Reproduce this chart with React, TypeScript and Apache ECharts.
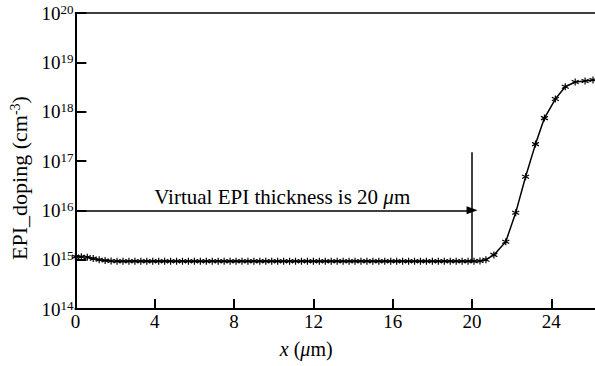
import React, { useEffect, useRef } from "react";
import * as echarts from "echarts";

// depth positions (μm)
const xs = [
  0, 0.3, 0.6, 0.9, 1.2, 1.5, 1.8, 2.1, 2.4, 2.7, 3.0, 3.3, 3.6, 3.9, 4.2, 4.5, 4.8,
  5.1, 5.4, 5.7, 6.0, 6.3, 6.6, 6.9, 7.2, 7.5, 7.8, 8.1, 8.4, 8.7, 9.0, 9.3, 9.6,
  9.9, 10.2, 10.5, 10.8, 11.1, 11.4, 11.7, 12.0, 12.3, 12.6, 12.9, 13.2, 13.5, 13.8,
  14.1, 14.4, 14.7, 15.0, 15.3, 15.6, 15.9, 16.2, 16.5, 16.8, 17.1, 17.4, 17.7, 18.0,
  18.3, 18.6, 18.9, 19.2, 19.5, 19.8, 20.1, 20.4, 20.7, 21.1, 21.7, 22.2, 22.7,
  23.2, 23.65, 24.2, 24.7, 25.2, 25.7, 26.1,
];
// doping values (cm^-3)
const doping = [
  1.15e15, 1.15e15, 1.12e15, 1.05e15, 1.0e15, 0.96e15, 0.94e15, 0.93e15, 0.93e15,
  0.93e15, 0.93e15, 0.93e15, 0.93e15, 0.93e15, 0.93e15, 0.93e15, 0.93e15, 0.93e15,
  0.93e15, 0.93e15, 0.93e15, 0.93e15, 0.93e15, 0.93e15, 0.93e15, 0.93e15, 0.93e15,
  0.93e15, 0.93e15, 0.93e15, 0.93e15, 0.93e15, 0.93e15, 0.93e15, 0.93e15, 0.93e15,
  0.93e15, 0.93e15, 0.93e15, 0.93e15, 0.93e15, 0.93e15, 0.93e15, 0.93e15, 0.93e15,
  0.93e15, 0.93e15, 0.93e15, 0.93e15, 0.93e15, 0.93e15, 0.93e15, 0.93e15, 0.93e15,
  0.93e15, 0.93e15, 0.93e15, 0.93e15, 0.93e15, 0.93e15, 0.93e15, 0.93e15, 0.93e15,
  0.93e15, 0.93e15, 0.93e15, 0.93e15, 0.93e15, 0.94e15, 1.0e15, 1.25e15, 2.3e15,
  8.9e15, 4.8e16, 2.2e17, 7.4e17, 1.8e18, 3.2e18, 4.0e18, 4.2e18, 4.4e18,
];
const xTicks = [0, 4, 8, 12, 16, 20, 24];
const yExponents = [14, 15, 16, 17, 18, 19, 20];

// annotation values
const epiThickness = 20;
const arrowLevel = 1e16;
const markerBottom = 0.93e15;
const markerTop = 1.5e17;
const annotation = "Virtual EPI thickness is 20 ";

const FONT = "'Liberation Serif', 'Times New Roman', serif";
const STAR = "path://M5,0L5,10M0.7,2.5L9.3,7.5M0.7,7.5L9.3,2.5";

export default function App() {
  const ref = useRef<HTMLDivElement>(null);
  useEffect(() => {
    if (!ref.current) return;
    const chart = echarts.init(ref.current, undefined, { renderer: "svg" });
    const data = xs.map((x, i) => [x, doping[i]]);
    chart.setOption({
      animation: false,
      textStyle: { fontFamily: FONT, color: "#000" },
      grid: { left: 74, top: 13, right: 0, bottom: 57, containLabel: false },
      xAxis: [
        {
          type: "value",
          min: 0,
          max: 26.2,
          interval: 4,
          name: "{i|x} ({i|μ}m)",
          nameLocation: "middle",
          nameGap: 30,
          nameTextStyle: {
            fontFamily: FONT,
            fontSize: 20,
            color: "#000",
            padding: [0, 58, 0, 0],
            rich: { i: { fontFamily: FONT, fontSize: 20, fontStyle: "italic", color: "#000" } },
          },
          axisLine: { show: true, onZero: false, lineStyle: { color: "#000", width: 2 } },
          axisTick: { show: true, inside: true, length: 10, lineStyle: { color: "#000", width: 2 } },
          axisLabel: {
            fontFamily: FONT,
            fontSize: 19,
            color: "#000",
            margin: 3,
            showMaxLabel: false,
            formatter: (v: number) => (xTicks.includes(v) ? String(v) : ""),
          },
          splitLine: { show: false },
        },
        {
          type: "value",
          position: "top",
          min: 0,
          max: 26.2,
          axisLine: { show: true, onZero: false, lineStyle: { color: "#000", width: 1.5 } },
          axisTick: { show: false },
          axisLabel: { show: false },
          splitLine: { show: false },
        },
      ],
      yAxis: {
        type: "log",
        logBase: 10,
        min: 1e14,
        max: 1e20,
        name: "EPI_doping (cm{s|-3})",
        nameLocation: "middle",
        nameGap: 44,
        nameRotate: 90,
        nameTextStyle: {
          fontFamily: FONT,
          fontSize: 22,
          color: "#000",
          padding: [0, 34, 0, 0],
          rich: { s: { fontFamily: FONT, fontSize: 14, color: "#000", verticalAlign: "bottom", padding: [0, 0, 9, 0] } },
        },
        axisLine: { show: true, onZero: false, lineStyle: { color: "#000", width: 2 } },
        axisTick: { show: true, inside: true, length: 11, lineStyle: { color: "#000", width: 2 } },
        axisLabel: {
          margin: 2,
          formatter: (v: number) => {
            const e = Math.round(Math.log10(v));
            return yExponents.includes(e) ? `{b|10}{s|${e}}` : "";
          },
          rich: {
            b: { fontFamily: FONT, fontSize: 19, color: "#000" },
            s: { fontFamily: FONT, fontSize: 13, color: "#000", verticalAlign: "bottom", padding: [0, 0, 8, 0] },
          },
        },
        splitLine: { show: false },
      },
      series: [
        {
          type: "line",
          data,
          symbol: STAR,
          symbolSize: 7,
          showAllSymbol: true,
          lineStyle: { color: "#000", width: 1.5 },
          itemStyle: { color: "#000", borderColor: "#000", borderWidth: 1.2 },
          z: 3,
        },
        {
          type: "line",
          data: [],
          markLine: {
            silent: true,
            symbol: ["none", "triangle"],
            symbolSize: [8, 11],
            lineStyle: { color: "#000", width: 1.5, type: "solid" },
            label: {
              show: true,
              position: "middle",
              distance: 3,
              padding: [0, 0, 0, 17],
              formatter: annotation + "{i|μ}m",
              fontFamily: FONT,
              fontSize: 21,
              color: "#000",
              rich: { i: { fontFamily: FONT, fontSize: 21, fontStyle: "italic", color: "#000" } },
            },
            data: [[{ coord: [0, arrowLevel] }, { coord: [epiThickness, arrowLevel] }]],
          },
        },
        {
          type: "line",
          data: [],
          markLine: {
            silent: true,
            symbol: ["none", "none"],
            lineStyle: { color: "#000", width: 1.5, type: "solid" },
            label: { show: false },
            data: [[{ coord: [epiThickness, markerBottom] }, { coord: [epiThickness, markerTop] }]],
          },
        },
      ],
    });
    return () => chart.dispose();
  }, []);
  return (
    <div
      ref={ref}
      style={{ position: "fixed", left: 0, top: 0, width: 595, height: 366, background: "#fff" }}
    />
  );
}
